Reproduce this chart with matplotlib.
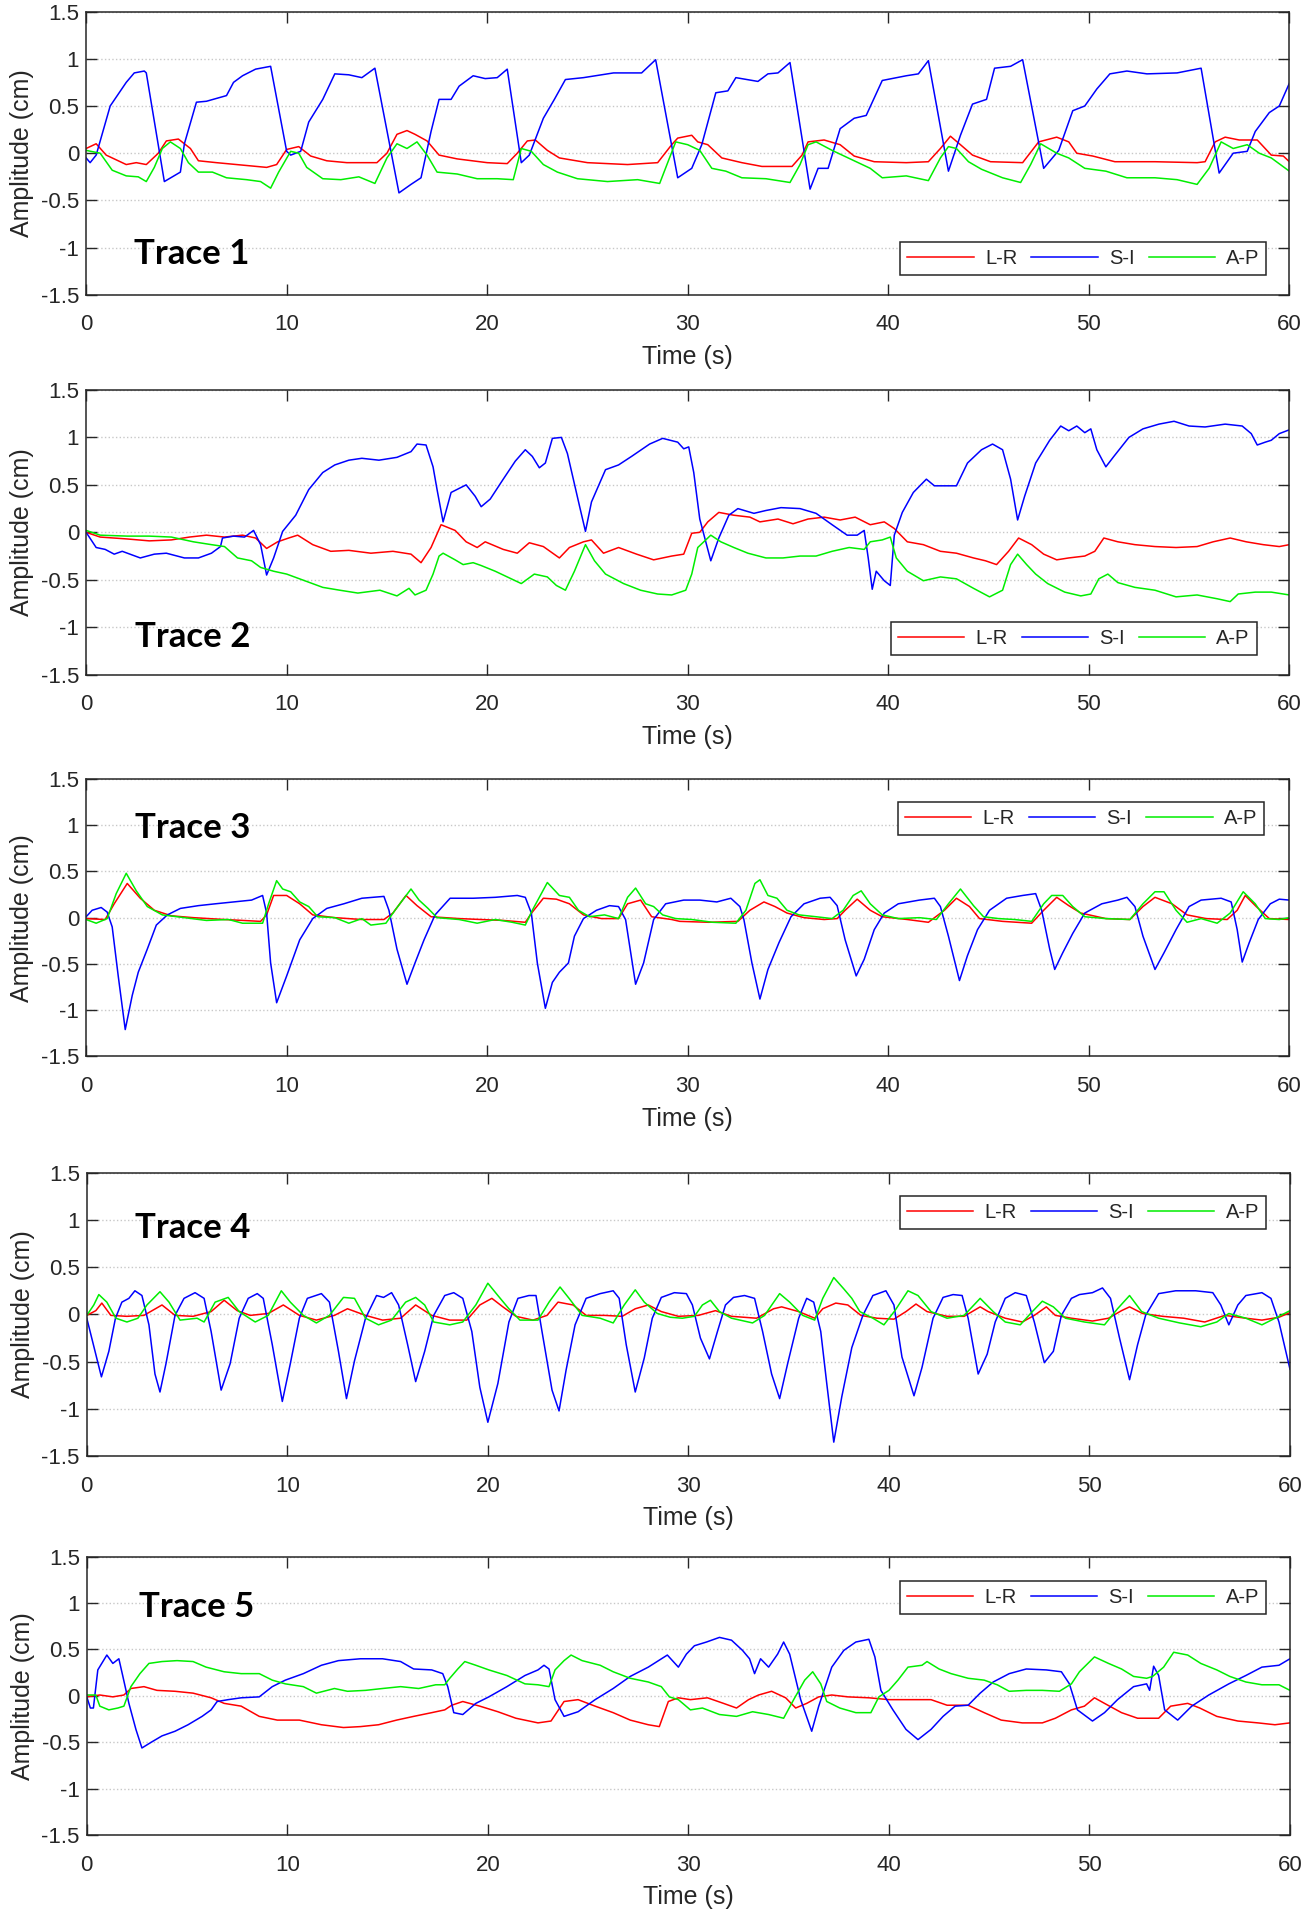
"""Five stacked respiratory motion traces (L-R, S-I, A-P) over 60 s."""
import matplotlib

matplotlib.use("Agg")
import matplotlib.pyplot as plt

plt.rcParams["font.family"] = ["Liberation Sans", "DejaVu Sans"]
plt.rcParams["axes.unicode_minus"] = False

TIME_TICKS = [0, 10, 20, 30, 40, 50, 60]
AMP_TICKS = [-1.5, -1, -0.5, 0, 0.5, 1, 1.5]
AMP_LABELS = ["-1.5", "-1", "-0.5", "0", "0.5", "1", "1.5"]
SERIES_NAMES = ["L-R", "S-I", "A-P"]
TRACE_NAMES = ["Trace 1", "Trace 2", "Trace 3", "Trace 4", "Trace 5"]

# (time s, amplitude cm)
trace1_lr = [(0, 0.05), (0.5, 0.1), (1.0, -0.02), (2.0, -0.12), (2.5, -0.1), (3.0, -0.12), (3.6, 0.0),
             (4.0, 0.13), (4.6, 0.15), (5.2, 0.05), (5.6, -0.08), (6.5, -0.1), (8.0, -0.13), (9.0, -0.15),
             (9.5, -0.12), (10.0, 0.04), (10.6, 0.07), (11.2, -0.03), (12, -0.08), (13, -0.1), (14.5, -0.1),
             (15.0, 0.0), (15.5, 0.2), (16.0, 0.24), (16.4, 0.2), (17.0, 0.13), (17.6, -0.02), (18.5, -0.06),
             (20, -0.1), (21, -0.11), (21.5, 0.0), (22.0, 0.13), (22.4, 0.14), (23, 0.03), (23.6, -0.05),
             (25, -0.1), (27, -0.12), (28.5, -0.1), (29.2, 0.09), (29.5, 0.16), (30.2, 0.19), (30.5, 0.12),
             (31.0, 0.09), (31.7, -0.05), (32.7, -0.1), (33.7, -0.14), (35.2, -0.14), (35.7, -0.02),
             (36.0, 0.12), (36.8, 0.14), (37.6, 0.09), (38.3, -0.03), (39.3, -0.09), (40.9, -0.1),
             (42.0, -0.09), (42.6, 0.05), (43.1, 0.18), (43.6, 0.09), (44.2, -0.02), (45.1, -0.09),
             (46.7, -0.1), (47.5, 0.12), (48.4, 0.17), (49.0, 0.12), (49.4, 0.0), (50.2, -0.03), (51.3, -0.09),
             (53.3, -0.09), (55.4, -0.1), (55.8, -0.09), (56.3, 0.12), (56.8, 0.17), (57.5, 0.14),
             (58.4, 0.14), (59.1, -0.02), (59.7, -0.03), (60, -0.09)]
trace1_si = [(0, -0.05), (0.2, -0.1), (0.5, -0.02), (1.2, 0.5), (2.0, 0.75), (2.4, 0.85), (2.9, 0.87),
             (3.0, 0.85), (3.9, -0.3), (4.7, -0.2), (4.9, 0.1), (5.5, 0.54), (6.0, 0.55), (7.0, 0.61),
             (7.35, 0.75), (7.8, 0.82), (8.45, 0.89), (9.2, 0.92), (10.0, 0.02), (10.2, -0.02), (10.7, 0.02),
             (11.1, 0.33), (11.8, 0.57), (12.4, 0.84), (13.1, 0.83), (13.75, 0.8), (14.4, 0.9), (15.6, -0.42),
             (16.2, -0.33), (16.7, -0.26), (17.2, 0.23), (17.6, 0.57), (18.2, 0.57), (18.6, 0.71),
             (19.3, 0.82), (19.9, 0.79), (20.5, 0.8), (21.0, 0.89), (21.7, -0.1), (22.1, -0.02), (22.8, 0.37),
             (23.35, 0.57), (23.9, 0.78), (24.8, 0.8), (26.3, 0.85), (27.7, 0.85), (28.4, 0.99), (29.5, -0.26),
             (30.2, -0.16), (30.7, 0.09), (31.4, 0.64), (32.0, 0.66), (32.4, 0.8), (33.5, 0.76), (34.0, 0.84),
             (34.5, 0.85), (35.1, 0.96), (36.1, -0.38), (36.5, -0.16), (37.0, -0.16), (37.6, 0.26),
             (38.3, 0.37), (38.9, 0.4), (39.7, 0.77), (40.9, 0.82), (41.5, 0.84), (42.0, 0.98), (43.0, -0.19),
             (43.6, 0.19), (44.2, 0.52), (44.9, 0.57), (45.3, 0.9), (46.1, 0.92), (46.7, 0.99), (47.75, -0.16),
             (48.5, 0.03), (49.2, 0.45), (49.8, 0.5), (50.4, 0.68), (51.05, 0.84), (51.9, 0.87), (52.9, 0.84),
             (54.4, 0.85), (55.6, 0.9), (56.5, -0.21), (57.2, 0.0), (57.9, 0.02), (58.3, 0.23), (59.0, 0.43),
             (59.5, 0.5), (60, 0.74)]
trace1_ap = [(0, 0.03), (0.7, 0.0), (1.3, -0.18), (2, -0.24), (2.6, -0.25), (3.0, -0.3), (3.4, -0.15),
             (3.8, 0.05), (4.2, 0.12), (4.7, 0.05), (5.1, -0.1), (5.6, -0.2), (6.3, -0.2), (7, -0.26),
             (8, -0.28), (8.7, -0.3), (9.2, -0.37), (9.6, -0.2), (10.2, 0.02), (10.6, 0.0), (11, -0.15),
             (11.8, -0.27), (12.7, -0.28), (13.6, -0.25), (14.4, -0.32), (15.0, -0.05), (15.5, 0.1),
             (16.0, 0.05), (16.5, 0.12), (17.0, -0.02), (17.5, -0.2), (18.5, -0.22), (19.5, -0.27),
             (20.5, -0.27), (21.3, -0.28), (21.7, 0.05), (22.2, 0.02), (22.8, -0.12), (23.5, -0.2),
             (24.5, -0.27), (26, -0.3), (27.5, -0.28), (28.6, -0.32), (29.4, 0.12), (30.0, 0.09), (30.6, 0.03),
             (31.2, -0.16), (31.9, -0.19), (32.7, -0.26), (33.9, -0.27), (35.1, -0.31), (35.6, -0.12),
             (36.0, 0.09), (36.4, 0.12), (37.2, 0.03), (38.0, -0.05), (39.1, -0.16), (39.7, -0.26),
             (40.9, -0.24), (42.0, -0.29), (42.6, -0.05), (43.0, 0.07), (43.4, 0.05), (44.0, -0.09),
             (44.65, -0.17), (45.7, -0.26), (46.6, -0.31), (47.1, -0.12), (47.6, 0.1), (48.4, 0.0),
             (49.0, -0.05), (49.8, -0.16), (50.85, -0.19), (51.9, -0.26), (53.3, -0.26), (54.4, -0.28),
             (55.4, -0.33), (56.0, -0.16), (56.6, 0.12), (57.2, 0.05), (57.9, 0.09), (58.5, 0.0),
             (59.1, -0.05), (60, -0.19)]

trace2_lr = [(0, 0.0), (0.7, -0.05), (2.05, -0.07), (3.15, -0.09), (4.25, -0.08), (5.15, -0.05), (6.0, -0.03),
             (6.9, -0.05), (7.8, -0.03), (8.45, -0.06), (9.0, -0.17), (9.55, -0.1), (10.1, -0.06),
             (10.55, -0.03), (11.3, -0.13), (12.2, -0.2), (13.1, -0.19), (14.2, -0.22), (15.3, -0.2),
             (16.2, -0.23), (16.7, -0.32), (17.2, -0.16), (17.7, 0.08), (18.4, 0.02), (18.95, -0.1),
             (19.5, -0.16), (19.9, -0.1), (20.8, -0.18), (21.5, -0.22), (22.1, -0.11), (22.8, -0.15),
             (23.6, -0.27), (24.1, -0.16), (24.8, -0.1), (25.2, -0.08), (25.8, -0.22), (26.55, -0.16),
             (27.45, -0.23), (28.3, -0.29), (29.2, -0.25), (29.8, -0.23), (30.2, -0.01), (30.6, 0.0),
             (31.0, 0.11), (31.55, 0.21), (32.3, 0.18), (33.1, 0.16), (33.6, 0.11), (34.5, 0.14),
             (35.25, 0.09), (36.0, 0.14), (36.8, 0.16), (37.6, 0.13), (38.35, 0.16), (39.1, 0.08),
             (39.8, 0.11), (40.3, 0.04), (40.95, -0.1), (41.75, -0.13), (42.6, -0.2), (43.4, -0.22),
             (44.25, -0.27), (44.85, -0.3), (45.4, -0.34), (46.0, -0.2), (46.5, -0.06), (47.15, -0.13),
             (47.75, -0.23), (48.4, -0.29), (49.0, -0.27), (49.8, -0.25), (50.3, -0.2), (50.75, -0.06),
             (51.45, -0.1), (52.3, -0.13), (53.3, -0.15), (54.35, -0.16), (55.4, -0.15), (56.2, -0.1),
             (57.05, -0.06), (57.85, -0.1), (58.7, -0.13), (59.5, -0.15), (60, -0.13)]
trace2_si = [(0, 0), (0.5, -0.16), (0.95, -0.18), (1.4, -0.23), (1.8, -0.2), (2.7, -0.27), (3.4, -0.23),
             (4.0, -0.22), (4.9, -0.27), (5.6, -0.27), (6.25, -0.22), (6.7, -0.15), (6.8, -0.06), (7.35, -0.04),
             (7.9, -0.05), (8.35, 0.02), (8.7, -0.13), (9.0, -0.45), (9.35, -0.27), (9.8, 0.01), (10.45, 0.18),
             (11.1, 0.45), (11.8, 0.63), (12.4, 0.71), (13.1, 0.76), (13.75, 0.78), (14.6, 0.76), (15.5, 0.79),
             (16.2, 0.85), (16.5, 0.93), (16.95, 0.92), (17.3, 0.69), (17.5, 0.45), (17.8, 0.11), (18.2, 0.42),
             (18.95, 0.5), (19.4, 0.38), (19.7, 0.27), (20.15, 0.35), (20.8, 0.56), (21.4, 0.75), (21.9, 0.87),
             (22.25, 0.8), (22.6, 0.68), (22.9, 0.73), (23.25, 0.99), (23.7, 1.0), (24.0, 0.83), (24.6, 0.28),
             (24.9, 0.01), (25.2, 0.32), (25.9, 0.66), (26.55, 0.71), (27.2, 0.8), (28.1, 0.93), (28.75, 0.99),
             (29.5, 0.95), (29.8, 0.88), (30.05, 0.9), (30.3, 0.63), (30.6, 0.14), (31.15, -0.3),
             (31.55, -0.06), (32.05, 0.18), (32.5, 0.25), (33.3, 0.2), (33.9, 0.23), (34.65, 0.26),
             (35.6, 0.25), (36.4, 0.2), (37.2, 0.08), (37.95, -0.03), (38.45, -0.03), (38.8, 0.02),
             (39.0, -0.27), (39.2, -0.6), (39.4, -0.41), (39.8, -0.51), (40.1, -0.56), (40.3, -0.03),
             (40.7, 0.21), (41.25, 0.42), (41.9, 0.56), (42.3, 0.49), (43.4, 0.49), (43.95, 0.73),
             (44.65, 0.87), (45.2, 0.93), (45.7, 0.87), (46.1, 0.56), (46.45, 0.13), (46.8, 0.38),
             (47.35, 0.73), (48.05, 0.97), (48.6, 1.12), (49.0, 1.07), (49.4, 1.12), (49.8, 1.05), (50.1, 1.09),
             (50.4, 0.87), (50.85, 0.69), (51.25, 0.8), (52.0, 1.0), (52.7, 1.09), (53.5, 1.14), (54.25, 1.17),
             (55.0, 1.12), (55.8, 1.11), (56.8, 1.14), (57.65, 1.12), (58.1, 1.04), (58.4, 0.92), (58.8, 0.95),
             (59.1, 0.97), (59.5, 1.04), (60, 1.08)]
trace2_ap = [(0, 0.02), (0.7, -0.03), (2.05, -0.04), (3.15, -0.04), (4.25, -0.05), (5.35, -0.1), (6.25, -0.13),
             (6.9, -0.15), (7.55, -0.27), (8.25, -0.3), (8.7, -0.37), (9.35, -0.41), (10.0, -0.44),
             (10.9, -0.51), (11.8, -0.58), (12.65, -0.61), (13.55, -0.64), (14.65, -0.61), (15.5, -0.67),
             (16.1, -0.59), (16.4, -0.66), (16.95, -0.61), (17.3, -0.44), (17.6, -0.25), (17.8, -0.22),
             (18.4, -0.29), (18.8, -0.34), (19.3, -0.32), (19.7, -0.35), (20.4, -0.41), (21.0, -0.47),
             (21.7, -0.54), (22.35, -0.44), (23.0, -0.47), (23.45, -0.56), (23.9, -0.61), (24.35, -0.41),
             (24.9, -0.13), (25.35, -0.3), (25.9, -0.44), (26.8, -0.54), (27.65, -0.61), (28.5, -0.65),
             (29.2, -0.66), (29.9, -0.61), (30.2, -0.44), (30.5, -0.16), (31.15, -0.03), (31.65, -0.1),
             (32.3, -0.16), (33.0, -0.22), (33.9, -0.27), (34.75, -0.27), (35.6, -0.25), (36.4, -0.25),
             (37.2, -0.2), (38.05, -0.16), (38.8, -0.18), (39.1, -0.1), (39.7, -0.08), (40.1, -0.05),
             (40.4, -0.27), (40.95, -0.41), (41.75, -0.51), (42.6, -0.47), (43.4, -0.49), (44.25, -0.59),
             (45.05, -0.68), (45.7, -0.61), (46.1, -0.34), (46.45, -0.23), (46.9, -0.34), (47.35, -0.44),
             (47.95, -0.54), (48.8, -0.63), (49.6, -0.67), (50.1, -0.65), (50.5, -0.49), (50.95, -0.44),
             (51.45, -0.53), (52.3, -0.58), (53.3, -0.61), (54.35, -0.68), (55.4, -0.66), (56.4, -0.7),
             (57.05, -0.73), (57.45, -0.65), (58.3, -0.63), (59.1, -0.63), (60, -0.66)]

trace3_lr = [(0, -0.01), (0.95, -0.02), (1.4, 0.15), (2.05, 0.37), (2.7, 0.21), (3.4, 0.08), (4.25, 0.02),
             (5.35, 0.0), (6.9, -0.02), (8.7, -0.04), (9.0, 0.03), (9.35, 0.24), (10.0, 0.24), (10.65, 0.15),
             (11.3, 0.03), (12.4, 0.0), (13.75, -0.02), (14.85, -0.02), (15.3, 0.05), (15.95, 0.24),
             (16.5, 0.13), (17.2, 0.01), (18.6, -0.01), (19.7, -0.02), (20.8, -0.03), (21.9, -0.05),
             (22.25, 0.06), (22.8, 0.21), (23.45, 0.2), (24.1, 0.15), (24.8, 0.03), (25.7, -0.01),
             (26.55, -0.01), (27.0, 0.15), (27.65, 0.19), (28.2, 0.01), (29.2, -0.02), (29.6, -0.04),
             (31.05, -0.05), (32.5, -0.04), (33.1, 0.08), (33.8, 0.17), (34.35, 0.12), (34.95, 0.05),
             (35.8, 0.0), (36.8, -0.02), (37.45, -0.01), (37.85, 0.08), (38.45, 0.2), (39.1, 0.08), (39.7, 0.01),
             (40.95, -0.02), (42.0, -0.05), (42.8, 0.08), (43.4, 0.21), (44.05, 0.12), (44.55, -0.01),
             (45.7, -0.04), (47.15, -0.06), (47.75, 0.08), (48.4, 0.22), (49.0, 0.13), (49.6, 0.05),
             (50.85, -0.01), (52.05, -0.02), (52.7, 0.12), (53.3, 0.22), (54.15, 0.15), (54.9, 0.03),
             (55.85, -0.01), (56.9, -0.02), (57.4, 0.08), (57.8, 0.24), (58.35, 0.12), (59.0, -0.01),
             (60, -0.02)]
trace3_si = [(0, 0.01), (0.3, 0.08), (0.75, 0.11), (1.05, 0.06), (1.3, -0.1), (1.6, -0.63), (1.95, -1.21),
             (2.3, -0.84), (2.6, -0.59), (3.05, -0.34), (3.5, -0.08), (4.05, 0.03), (4.7, 0.1), (5.6, 0.13),
             (6.45, 0.15), (7.35, 0.17), (8.25, 0.19), (8.8, 0.24), (9.0, 0.05), (9.2, -0.49), (9.5, -0.92),
             (10.0, -0.63), (10.65, -0.24), (11.3, -0.01), (12.0, 0.1), (12.85, 0.15), (13.75, 0.21),
             (14.85, 0.23), (15.1, 0.08), (15.5, -0.34), (16.0, -0.72), (16.4, -0.49), (16.85, -0.24),
             (17.4, 0.03), (18.15, 0.21), (19.3, 0.21), (20.4, 0.22), (21.5, 0.24), (21.9, 0.22), (22.2, 0.05),
             (22.5, -0.49), (22.9, -0.98), (23.25, -0.7), (23.6, -0.59), (24.05, -0.49), (24.35, -0.2),
             (24.8, -0.01), (25.45, 0.08), (26.1, 0.13), (26.55, 0.12), (26.9, -0.02), (27.4, -0.72),
             (27.8, -0.49), (28.3, -0.02), (28.9, 0.15), (29.8, 0.19), (30.6, 0.19), (31.45, 0.17),
             (32.15, 0.21), (32.6, 0.12), (32.8, -0.02), (33.2, -0.49), (33.6, -0.88), (34.0, -0.56),
             (34.55, -0.27), (35.15, 0.01), (35.8, 0.15), (36.6, 0.21), (37.1, 0.22), (37.45, 0.13),
             (37.85, -0.24), (38.4, -0.63), (38.8, -0.45), (39.3, -0.13), (39.8, 0.05), (40.5, 0.15),
             (41.55, 0.19), (42.3, 0.21), (42.6, 0.12), (43.0, -0.2), (43.55, -0.68), (43.95, -0.41),
             (44.45, -0.13), (45.05, 0.08), (45.9, 0.21), (46.7, 0.24), (47.35, 0.26), (47.65, 0.08),
             (48.05, -0.34), (48.3, -0.56), (48.7, -0.38), (49.2, -0.17), (49.8, 0.05), (50.65, 0.15),
             (51.45, 0.19), (51.9, 0.22), (52.3, 0.12), (52.7, -0.2), (53.3, -0.56), (53.75, -0.38),
             (54.35, -0.13), (55.0, 0.12), (55.6, 0.19), (56.6, 0.21), (57.1, 0.17), (57.4, -0.13),
             (57.65, -0.48), (58.0, -0.27), (58.45, -0.02), (59.05, 0.15), (59.5, 0.2), (60, 0.19)]
trace3_ap = [(0, -0.02), (0.5, -0.06), (1.05, -0.01), (1.5, 0.26), (2.0, 0.48), (2.5, 0.29), (3.05, 0.12),
             (3.8, 0.03), (4.9, 0.0), (6.0, -0.03), (7.1, -0.02), (7.8, -0.06), (8.8, -0.06), (9.1, 0.15),
             (9.5, 0.4), (9.8, 0.31), (10.2, 0.28), (10.65, 0.17), (11.1, 0.12), (11.55, 0.01), (12.4, 0.0),
             (13.1, -0.06), (13.75, -0.01), (14.2, -0.08), (14.95, -0.06), (15.4, 0.08), (16.2, 0.31),
             (16.6, 0.19), (17.05, 0.1), (17.5, 0.0), (18.6, -0.02), (19.5, -0.06), (20.4, -0.02),
             (21.25, -0.05), (21.9, -0.08), (22.25, 0.08), (23.0, 0.38), (23.6, 0.24), (24.1, 0.22),
             (24.55, 0.08), (25.1, 0.01), (25.85, 0.03), (26.55, -0.01), (27.0, 0.22), (27.4, 0.32),
             (27.9, 0.15), (28.3, 0.12), (28.75, 0.03), (29.4, -0.01), (30.2, -0.02), (31.25, -0.05),
             (32.4, -0.06), (32.9, 0.08), (33.35, 0.37), (33.6, 0.41), (34.0, 0.24), (34.45, 0.21),
             (34.95, 0.08), (35.55, 0.03), (36.4, 0.01), (37.2, -0.01), (37.75, 0.08), (38.25, 0.24),
             (38.65, 0.29), (39.1, 0.15), (39.7, 0.03), (40.5, -0.01), (41.55, 0.0), (42.4, -0.02), (43.0, 0.15),
             (43.6, 0.31), (44.25, 0.13), (44.75, 0.01), (45.5, -0.01), (46.3, -0.02), (47.15, -0.04),
             (47.75, 0.15), (48.15, 0.24), (48.7, 0.24), (49.2, 0.12), (49.8, 0.01), (50.85, -0.01),
             (52.05, -0.02), (52.7, 0.15), (53.3, 0.28), (53.75, 0.28), (54.35, 0.08), (54.9, -0.05),
             (55.6, -0.01), (56.4, -0.06), (57.05, 0.05), (57.7, 0.28), (58.3, 0.15), (58.8, -0.01),
             (59.5, -0.02), (60, 0.0)]

trace4_lr = [(0, -0.01), (0.45, 0.04), (0.75, 0.12), (1.2, -0.01), (2.0, -0.02), (2.85, -0.01), (3.75, 0.1),
             (4.4, -0.01), (5.3, -0.02), (6.2, 0.03), (6.85, 0.15), (7.5, 0.04), (8.15, -0.01), (9.05, 0.01),
             (9.8, 0.1), (10.6, -0.01), (11.45, -0.06), (12.35, -0.01), (13.0, 0.06), (13.9, -0.01),
             (14.75, -0.06), (15.65, -0.04), (16.4, 0.1), (17.2, -0.01), (18.1, -0.06), (18.95, -0.06),
             (19.6, 0.1), (20.2, 0.17), (20.75, 0.08), (21.4, -0.02), (22.25, -0.06), (22.95, -0.01),
             (23.5, 0.13), (24.25, 0.1), (24.9, -0.01), (25.8, -0.01), (26.7, -0.02), (27.35, 0.06),
             (28.0, 0.1), (28.65, 0.03), (29.5, -0.02), (30.5, -0.01), (31.35, 0.04), (32.15, -0.02),
             (33.4, -0.04), (34.25, 0.06), (34.65, 0.08), (35.5, 0.03), (36.3, -0.04), (36.7, 0.06),
             (37.35, 0.12), (37.95, 0.1), (38.6, -0.01), (39.4, -0.04), (40.25, -0.05), (40.85, 0.03),
             (41.35, 0.11), (41.9, 0.03), (42.9, -0.02), (43.75, -0.02), (44.55, 0.08), (44.95, 0.03),
             (45.8, -0.04), (46.65, -0.08), (47.25, -0.01), (47.85, 0.08), (48.3, -0.01), (49.1, -0.04),
             (50.15, -0.07), (50.95, -0.04), (51.6, 0.04), (52.0, 0.08), (52.65, 0.01), (53.65, -0.02),
             (54.7, -0.04), (55.75, -0.08), (56.75, -0.01), (57.8, -0.04), (58.6, -0.06), (59.45, -0.03),
             (60, 0.02)]
trace4_si = [(0, -0.04), (0.33, -0.32), (0.73, -0.66), (1.1, -0.39), (1.43, -0.04), (1.75, 0.13), (2.1, 0.17),
             (2.4, 0.25), (2.75, 0.2), (3.1, -0.11), (3.4, -0.63), (3.65, -0.82), (3.95, -0.52), (4.4, -0.01),
             (4.85, 0.17), (5.4, 0.23), (5.85, 0.17), (6.2, -0.18), (6.7, -0.8), (7.15, -0.52), (7.6, -0.04),
             (8.05, 0.17), (8.5, 0.22), (8.8, 0.17), (9.25, -0.32), (9.75, -0.92), (10.15, -0.52),
             (10.6, -0.04), (11.0, 0.17), (11.7, 0.22), (12.1, 0.13), (12.55, -0.39), (12.95, -0.89),
             (13.35, -0.49), (13.9, -0.04), (14.45, 0.2), (14.8, 0.18), (15.2, 0.23), (15.55, 0.1),
             (16.0, -0.32), (16.4, -0.71), (16.85, -0.39), (17.3, -0.01), (17.85, 0.2), (18.3, 0.23),
             (18.75, 0.17), (19.2, -0.18), (19.6, -0.77), (20.0, -1.14), (20.5, -0.73), (21.05, -0.08),
             (21.5, 0.17), (22.05, 0.2), (22.4, 0.2), (22.7, -0.18), (23.2, -0.8), (23.55, -1.02),
             (23.9, -0.59), (24.35, -0.11), (24.9, 0.17), (25.6, 0.22), (26.25, 0.25), (26.55, 0.17),
             (26.9, -0.32), (27.35, -0.82), (27.8, -0.46), (28.2, -0.04), (28.65, 0.18), (29.3, 0.23),
             (29.9, 0.22), (30.2, 0.1), (30.6, -0.25), (31.05, -0.47), (31.45, -0.18), (31.85, 0.1),
             (32.25, 0.18), (32.8, 0.2), (33.3, 0.17), (33.7, -0.18), (34.15, -0.63), (34.55, -0.89),
             (34.95, -0.52), (35.5, -0.04), (35.9, 0.17), (36.25, 0.13), (36.6, -0.18), (36.9, -0.73),
             (37.25, -1.35), (37.65, -0.87), (38.15, -0.35), (38.7, -0.01), (39.2, 0.2), (39.85, 0.25),
             (40.25, 0.1), (40.65, -0.45), (41.25, -0.86), (41.65, -0.56), (42.2, -0.04), (42.7, 0.18),
             (43.2, 0.21), (43.65, 0.2), (43.95, -0.04), (44.45, -0.63), (44.9, -0.42), (45.3, -0.08),
             (45.8, 0.17), (46.3, 0.23), (46.85, 0.2), (47.25, -0.08), (47.75, -0.51), (48.2, -0.39),
             (48.6, -0.01), (49.1, 0.17), (49.5, 0.21), (50.15, 0.23), (50.65, 0.28), (51.05, 0.17),
             (51.5, -0.25), (52.0, -0.69), (52.4, -0.32), (52.8, -0.01), (53.45, 0.22), (54.3, 0.25),
             (55.3, 0.25), (56.15, 0.23), (56.55, 0.1), (56.95, -0.11), (57.4, 0.1), (57.8, 0.2), (58.6, 0.23),
             (59.05, 0.17), (59.45, -0.08), (60, -0.58)]
trace4_ap = [(0, -0.01), (0.35, 0.1), (0.6, 0.21), (1.0, 0.13), (1.45, -0.04), (2.0, -0.08), (2.55, -0.04),
             (3.0, 0.1), (3.65, 0.24), (4.1, 0.13), (4.65, -0.06), (5.5, -0.04), (5.85, -0.08), (6.4, 0.13),
             (7.05, 0.18), (7.6, 0.03), (8.4, -0.08), (9.05, -0.01), (9.7, 0.25), (10.15, 0.13), (10.8, -0.01),
             (11.45, -0.09), (12.1, -0.01), (12.8, 0.18), (13.35, 0.17), (13.9, -0.04), (14.55, -0.11),
             (15.2, -0.06), (15.9, 0.13), (16.4, 0.18), (16.85, 0.1), (17.3, -0.08), (18.1, -0.11),
             (18.75, -0.08), (19.4, 0.1), (20.0, 0.33), (20.5, 0.2), (21.05, 0.06), (21.6, -0.06), (22.5, -0.06),
             (23.05, 0.13), (23.6, 0.29), (24.05, 0.17), (24.7, -0.01), (25.6, -0.04), (26.25, -0.09),
             (26.8, 0.1), (27.35, 0.26), (27.8, 0.13), (28.45, 0.01), (29.1, -0.03), (29.7, -0.04),
             (30.3, -0.02), (30.7, 0.1), (31.1, 0.15), (31.55, 0.03), (32.15, -0.04), (33.2, -0.09),
             (33.8, -0.01), (34.55, 0.22), (35.05, 0.13), (35.7, -0.01), (36.3, -0.06), (36.7, 0.17),
             (37.25, 0.39), (37.75, 0.27), (38.15, 0.17), (38.55, 0.03), (39.2, -0.04), (39.75, -0.11),
             (40.3, 0.04), (40.95, 0.25), (41.45, 0.2), (42.1, 0.03), (42.9, -0.04), (43.75, -0.01),
             (44.55, 0.17), (45.2, 0.03), (45.8, -0.08), (46.55, -0.11), (47.15, 0.03), (47.65, 0.14),
             (48.2, 0.08), (48.8, -0.04), (49.75, -0.08), (50.75, -0.11), (51.4, 0.06), (52.0, 0.2),
             (52.6, 0.03), (53.45, -0.04), (54.5, -0.09), (55.55, -0.13), (56.35, -0.08), (56.95, 0.01),
             (57.8, -0.04), (58.6, -0.11), (59.45, -0.02), (60, 0.04)]

trace5_lr = [(0, -0.01), (0.65, 0.01), (1.3, -0.01), (1.85, 0.01), (2.2, 0.08), (2.85, 0.1), (3.5, 0.06),
             (4.4, 0.05), (5.3, 0.03), (6.2, -0.02), (6.85, -0.08), (7.7, -0.11), (8.6, -0.22), (9.5, -0.26),
             (10.6, -0.26), (11.7, -0.31), (12.8, -0.34), (13.65, -0.33), (14.55, -0.31), (15.45, -0.26),
             (16.3, -0.22), (17.2, -0.18), (17.85, -0.15), (18.2, -0.1), (18.75, -0.06), (19.6, -0.11),
             (20.5, -0.17), (21.4, -0.24), (22.5, -0.29), (23.15, -0.27), (23.8, -0.06), (24.5, -0.04),
             (25.35, -0.11), (26.25, -0.18), (27.1, -0.26), (28.0, -0.31), (28.55, -0.33), (29.0, -0.06),
             (29.5, -0.02), (30.1, -0.04), (30.95, -0.02), (31.75, -0.08), (32.4, -0.13), (33.0, -0.04),
             (33.5, 0.01), (34.15, 0.05), (34.85, -0.02), (35.35, -0.13), (35.9, -0.08), (36.5, -0.01),
             (37.15, 0.01), (37.95, -0.01), (39.0, -0.02), (40.0, -0.04), (41.05, -0.04), (42.1, -0.04),
             (42.9, -0.1), (43.95, -0.1), (44.75, -0.18), (45.6, -0.26), (46.65, -0.29), (47.65, -0.29),
             (48.3, -0.24), (49.1, -0.15), (49.75, -0.11), (50.25, -0.02), (50.75, -0.08), (51.6, -0.18),
             (52.4, -0.24), (53.45, -0.24), (54.05, -0.11), (54.9, -0.08), (55.5, -0.13), (56.35, -0.22),
             (57.4, -0.27), (58.4, -0.29), (59.25, -0.31), (60, -0.29)]
trace5_si = [(0, -0.01), (0.18, -0.13), (0.33, -0.13), (0.55, 0.28), (1.0, 0.44), (1.3, 0.35), (1.6, 0.4),
             (1.8, 0.21), (2.1, -0.08), (2.45, -0.36), (2.75, -0.56), (3.2, -0.5), (3.75, -0.43), (4.4, -0.38),
             (5.05, -0.31), (5.75, -0.22), (6.2, -0.15), (6.5, -0.06), (7.05, -0.04), (7.7, -0.02), (8.6, -0.01),
             (9.25, 0.1), (9.9, 0.17), (10.8, 0.24), (11.7, 0.33), (12.55, 0.38), (13.65, 0.4), (14.75, 0.4),
             (15.65, 0.37), (16.3, 0.29), (17.2, 0.28), (17.75, 0.24), (18.0, 0.1), (18.3, -0.18),
             (18.75, -0.2), (19.4, -0.08), (20.05, -0.01), (20.95, 0.1), (21.85, 0.22), (22.5, 0.28),
             (22.8, 0.33), (23.05, 0.29), (23.35, -0.04), (23.8, -0.22), (24.5, -0.17), (25.35, -0.04),
             (26.25, 0.08), (27.1, 0.21), (28.0, 0.31), (28.95, 0.44), (29.5, 0.31), (29.9, 0.45), (30.3, 0.54),
             (30.9, 0.58), (31.55, 0.63), (32.15, 0.6), (32.7, 0.49), (33.05, 0.4), (33.3, 0.24), (33.6, 0.4),
             (34.0, 0.31), (34.45, 0.45), (34.75, 0.58), (35.05, 0.45), (35.6, -0.04), (36.15, -0.38),
             (36.5, -0.11), (37.15, 0.31), (37.75, 0.49), (38.35, 0.58), (39.0, 0.61), (39.3, 0.42),
             (39.6, 0.06), (40.2, -0.15), (40.85, -0.36), (41.45, -0.47), (42.1, -0.36), (42.7, -0.22),
             (43.3, -0.11), (43.95, -0.1), (44.55, 0.03), (45.2, 0.15), (46.0, 0.24), (46.85, 0.29),
             (47.85, 0.28), (48.6, 0.26), (49.0, 0.13), (49.4, -0.15), (50.15, -0.27), (50.75, -0.18),
             (51.4, -0.04), (52.2, 0.1), (52.85, 0.13), (53.0, 0.06), (53.2, 0.32), (53.45, 0.22),
             (53.75, -0.15), (54.4, -0.26), (55.1, -0.11), (55.95, 0.01), (56.95, 0.13), (57.8, 0.22),
             (58.6, 0.31), (59.45, 0.33), (60, 0.4)]
trace5_ap = [(0, 0.01), (0.45, 0.01), (0.65, -0.11), (1.1, -0.15), (1.55, -0.13), (1.85, -0.11), (2.2, 0.1),
             (2.65, 0.24), (3.1, 0.35), (3.75, 0.37), (4.5, 0.38), (5.3, 0.37), (5.95, 0.31), (6.85, 0.26),
             (7.7, 0.24), (8.6, 0.24), (9.25, 0.17), (9.9, 0.13), (10.8, 0.1), (11.45, 0.03), (12.35, 0.08),
             (13.0, 0.05), (13.9, 0.06), (14.75, 0.08), (15.65, 0.1), (16.55, 0.08), (17.4, 0.12),
             (17.85, 0.12), (18.1, 0.19), (18.5, 0.29), (18.85, 0.37), (19.4, 0.33), (20.05, 0.28),
             (20.95, 0.22), (21.85, 0.13), (22.5, 0.12), (23.05, 0.1), (23.35, 0.28), (23.8, 0.38),
             (24.15, 0.44), (24.7, 0.38), (25.6, 0.33), (26.25, 0.26), (27.1, 0.19), (28.0, 0.15),
             (28.65, 0.1), (29.05, -0.01), (29.5, -0.04), (30.1, -0.15), (30.7, -0.13), (31.55, -0.2),
             (32.4, -0.22), (33.2, -0.17), (34.0, -0.2), (34.75, -0.24), (35.25, -0.04), (35.8, 0.17),
             (36.2, 0.26), (36.6, 0.13), (36.9, -0.06), (37.55, -0.13), (38.35, -0.18), (39.1, -0.18),
             (39.5, -0.01), (40.0, 0.06), (40.45, 0.17), (40.95, 0.31), (41.65, 0.33), (41.9, 0.37),
             (42.5, 0.29), (43.1, 0.24), (43.95, 0.19), (44.75, 0.17), (45.4, 0.12), (46.0, 0.05),
             (46.85, 0.06), (47.65, 0.06), (48.5, 0.05), (49.1, 0.13), (49.5, 0.26), (50.25, 0.42),
             (50.95, 0.35), (51.6, 0.29), (52.2, 0.21), (52.85, 0.19), (53.15, 0.21), (53.7, 0.31),
             (54.2, 0.47), (54.9, 0.44), (55.55, 0.35), (56.35, 0.28), (57.0, 0.21), (57.8, 0.15),
             (58.6, 0.12), (59.45, 0.12), (60, 0.06)]

TRACES = [
    (trace1_lr, trace1_si, trace1_ap),
    (trace2_lr, trace2_si, trace2_ap),
    (trace3_lr, trace3_si, trace3_ap),
    (trace4_lr, trace4_si, trace4_ap),
    (trace5_lr, trace5_si, trace5_ap),
]

# layout: axes rect in figure fraction, trace label anchor (data), legend loc + anchor (axes)
LAYOUT = [
    {"rect": (0.066, 0.8464, 0.922, 0.1476), "label_xy": (2.4, -1.17),
     "legend": ("lower right", (0.981, 0.071))},
    {"rect": (0.066, 0.6486, 0.922, 0.1483), "label_xy": (2.45, -1.21),
     "legend": ("lower right", (0.973, 0.070))},
    {"rect": (0.066, 0.4498, 0.922, 0.1445), "label_xy": (2.45, 0.86),
     "legend": ("upper right", (0.979, 0.917))},
    {"rect": (0.0665, 0.2415, 0.922, 0.1478), "label_xy": (2.4, 0.81),
     "legend": ("upper right", (0.980, 0.919))},
    {"rect": (0.0665, 0.0441, 0.922, 0.1452), "label_xy": (2.6, 0.85),
     "legend": ("upper right", (0.980, 0.914))},
]
COLORS = ["#ff0000", "#0000ff", "#00ee00"]
INK = "#262626"


def draw_panel(fig, series, name, layout):
    ax = fig.add_axes(layout["rect"])
    for points, label, color in zip(series, SERIES_NAMES, COLORS):
        t = [p[0] for p in points]
        v = [p[1] for p in points]
        ax.plot(t, v, color=color, linewidth=1.1, label=label)

    ax.set_xlim(0, 60)
    ax.set_ylim(-1.5, 1.5)
    ax.set_xticks(TIME_TICKS)
    ax.set_yticks(AMP_TICKS)
    ax.set_yticklabels(AMP_LABELS)
    ax.yaxis.grid(True, linestyle=":", color="#c8c8c8", linewidth=1.0)
    ax.set_axisbelow(True)
    for spine in ax.spines.values():
        spine.set_color(INK)
        spine.set_linewidth(1.1)
    ax.tick_params(direction="in", length=8, width=1.0, top=True, right=True,
                   labelsize=16, colors=INK)
    ax.tick_params(axis="x", pad=14)
    ax.tick_params(axis="y", pad=5)
    ax.set_xlabel("Time (s)", fontsize=18, color=INK, labelpad=7)
    ax.set_ylabel("Amplitude (cm)", fontsize=18, color=INK, labelpad=5)

    lx, ly = layout["label_xy"]
    ax.text(lx, ly, name, fontsize=25, fontweight="bold", family=["Lato", "DejaVu Sans"],
            ha="left", va="baseline", color="black")

    loc, anchor = layout["legend"]
    leg = ax.legend(loc=loc, bbox_to_anchor=anchor, borderaxespad=0, ncol=3, fontsize=14.5,
                    handlelength=3.3, handletextpad=0.55, columnspacing=0.7, borderpad=0.35,
                    fancybox=False, framealpha=1, edgecolor=INK)
    leg.get_frame().set_linewidth(1.1)
    for txt in leg.get_texts():
        txt.set_color(INK)
    return ax


def main():
    fig = plt.figure(figsize=(13.05, 19.2), dpi=100)
    for series, name, layout in zip(TRACES, TRACE_NAMES, LAYOUT):
        draw_panel(fig, series, name, layout)
    fig.savefig("out.png", dpi=100, facecolor="white")
    plt.close(fig)


if __name__ == "__main__":
    main()
